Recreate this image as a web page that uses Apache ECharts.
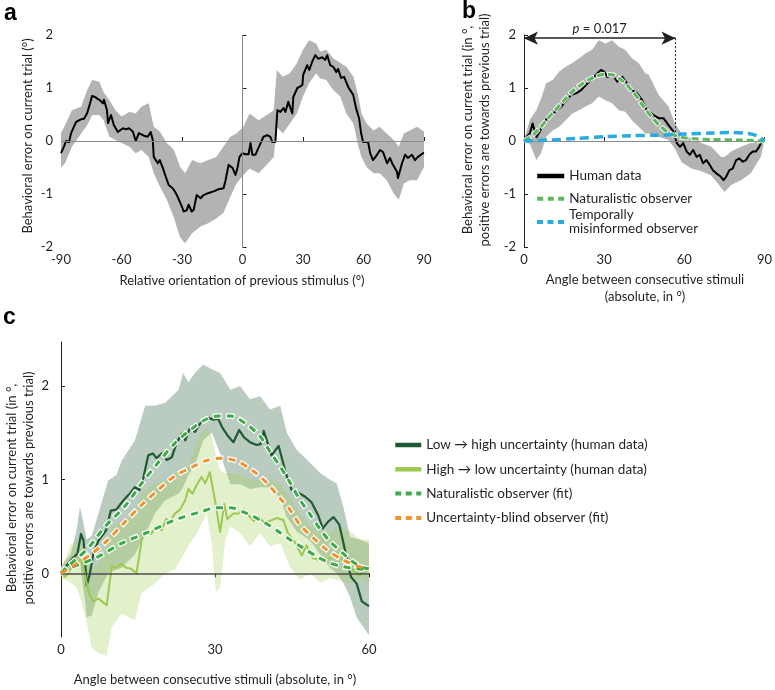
<!DOCTYPE html>
<html><head><meta charset="utf-8">
<script src="https://cdn.jsdelivr.net/npm/echarts@6/dist/echarts.min.js"></script>
<style>html,body{margin:0;padding:0;background:#fff}#c{width:775px;height:690px}</style>
</head><body><div id="c"></div>
<script>
// ---------- Panel a: relative orientation vs behavioural error ----------
const aError = [[-90,-0.23],[-88.5,-0.1],[-87.5,0.0],[-86,-0.02],[-85,0.15],[-82.5,0.36],[-80.1,0.41],[-78.6,0.42],[-77.1,0.52],[-75.6,0.71],[-74.6,0.85],[-73.1,0.83],[-71.7,0.79],[-70.7,0.77],[-69.2,0.71],[-68.7,0.78],[-67.2,0.58],[-66.7,0.34],[-65.2,0.49],[-63.8,0.30],[-61.8,0.17],[-59.3,0.24],[-57.8,0.22],[-56.3,0.24],[-54.4,0.18],[-52.9,0.0],[-51.4,0.15],[-48.9,0.10],[-47.0,0.08],[-45.5,0.17],[-44.5,0.02],[-44.0,-0.30],[-42.0,-0.42],[-41.0,-0.36],[-39.5,-0.51],[-38.1,-0.67],[-36.6,-0.83],[-34.6,-0.89],[-33.1,-0.98],[-31.6,-1.10],[-29.7,-1.27],[-29.2,-1.33],[-27.7,-1.31],[-26.7,-1.20],[-25.2,-1.33],[-24.2,-1.30],[-22.7,-1.02],[-20.8,-1.08],[-19.3,-1.02],[-16.8,-0.98],[-14.3,-0.95],[-11.9,-0.91],[-9.4,-0.89],[-8.4,-0.74],[-6.9,-0.45],[-4.9,-0.51],[-3.5,-0.64],[-2.5,-0.51],[-1.5,-0.30],[0,-0.23],[1.5,-0.25],[3.0,-0.25],[4.0,-0.04],[4.9,-0.26],[6.4,-0.26],[7.9,-0.13],[10.4,0.08],[12.4,0.11],[13.8,0.08],[14.8,-0.02],[16.3,-0.02],[17.3,0.58],[18.8,0.55],[20.3,0.62],[21.3,0.55],[22.7,0.74],[24.7,0.52],[25.2,0.83],[27.2,1.00],[28.7,1.03],[29.7,1.06],[30.1,1.25],[32.1,1.43],[33.1,1.34],[34.6,1.50],[36.1,1.62],[37.6,1.55],[39.5,1.58],[41.0,1.53],[42.0,1.62],[43.5,1.43],[45.0,1.40],[46.5,1.30],[47.4,1.36],[48.9,1.19],[50.4,1.21],[52.4,1.02],[54.9,0.87],[56.3,0.62],[57.8,0.43],[58.8,0.15],[59.8,-0.02],[62.3,-0.02],[63.3,-0.23],[64.7,-0.36],[66.7,-0.26],[68.2,-0.17],[69.7,-0.21],[71.7,-0.42],[73.1,-0.32],[74.6,-0.45],[76.6,-0.58],[77.1,-0.70],[79.1,-0.42],[80.6,-0.26],[82.0,-0.32],[84.0,-0.26],[85.5,-0.36],[87.0,-0.30],[89.5,-0.23],[90,-0.22]];
// [angle, lower, upper]
const aBand = [[-90,-0.5,0.15],[-88,-0.42,0.30],[-84.6,-0.11,0.58],[-80,0.14,0.65],[-77,0.30,0.96],[-74.5,0.49,1.15],[-71,0.49,1.12],[-69,0.40,0.93],[-66,0.08,0.77],[-63,0.02,0.58],[-60,-0.04,0.46],[-56,-0.11,0.55],[-53,-0.23,0.52],[-50,-0.17,0.65],[-46.5,-0.30,0.71],[-44,-0.61,0.27],[-41,-0.86,0.18],[-37.5,-1.11,-0.04],[-34,-1.45,-0.17],[-31,-1.81,-0.48],[-28.5,-1.93,-0.61],[-25,-1.74,-0.36],[-21,-1.62,-0.42],[-17,-1.55,-0.36],[-13,-1.46,-0.30],[-9.5,-1.36,-0.11],[-6,-1.05,0.08],[-3,-0.80,0.14],[0.5,-0.64,0.27],[3.5,-0.52,0.52],[8,-0.61,0.39],[12,-0.45,0.49],[15.5,-0.30,0.58],[17,0.27,1.34],[20,0.14,1.21],[23.5,0.33,1.28],[27,0.52,1.47],[30,0.84,1.72],[33,1.09,1.90],[36.5,1.28,1.84],[38.5,1.18,1.69],[41.5,1.15,1.72],[45,0.96,1.56],[48.5,0.84,1.47],[51.5,0.52,1.40],[55,0.33,1.21],[57.5,-0.11,0.84],[59,-0.30,0.52],[61.5,-0.49,0.33],[65,-0.61,0.20],[68,-0.61,0.27],[71.5,-0.74,0.14],[75,-0.99,0.02],[77.5,-1.11,-0.11],[80,-0.80,0.14],[83,-0.74,0.20],[86.5,-0.74,0.27],[90,-0.49,0.18]];

// ---------- Panel b ----------
const bHuman = [[0,0],[1.0,0.08],[2.2,0.14],[3.2,0.33],[4.1,0.18],[4.7,0.07],[5.9,0.18],[7.1,0.30],[9.0,0.46],[10.9,0.52],[12.3,0.58],[14.0,0.65],[15.8,0.77],[17.7,0.87],[19.5,0.90],[21.4,0.96],[23.2,1.06],[25.1,1.15],[26.9,1.25],[28.8,1.34],[30.0,1.31],[31.2,1.21],[33.1,1.25],[34.9,1.12],[36.8,1.21],[38.6,1.09],[40.5,0.96],[42.3,0.90],[44.2,0.77],[46.0,0.58],[48.5,0.49],[50.4,0.43],[52.2,0.43],[54.1,0.30],[55.9,0.18],[57.2,-0.04],[58.4,-0.11],[59.6,-0.04],[60.9,-0.20],[62.1,-0.26],[63.3,-0.17],[64.6,-0.30],[65.8,-0.26],[67.0,-0.42],[68.3,-0.36],[69.5,-0.45],[70.7,-0.55],[72.0,-0.61],[73.6,-0.67],[74.7,-0.74],[75.7,-0.67],[76.9,-0.55],[78.1,-0.52],[79.4,-0.36],[80.6,-0.33],[81.9,-0.39],[83.1,-0.36],[84.3,-0.26],[85.6,-0.20],[86.8,-0.20],[88.0,-0.11],[89.3,0.02],[90,0]];
const bBand = [[0,-0.02,0.02],[2.2,-0.05,0.40],[4.6,-0.36,0.58],[6.4,-0.23,0.80],[8.3,0.08,1.09],[10.7,0.20,1.15],[13.2,0.27,1.31],[15.6,0.39,1.40],[18.1,0.52,1.47],[20.6,0.58,1.56],[23.0,0.65,1.65],[25.5,0.71,1.72],[28.0,0.84,1.90],[30.5,0.77,1.84],[33.0,0.71,1.90],[35.5,0.58,1.78],[37.9,0.55,1.72],[40.4,0.39,1.56],[42.9,0.27,1.47],[45.4,0.14,1.28],[46.7,0.14,1.25],[50.4,0.08,0.87],[54.1,0.02,0.65],[56.5,-0.15,0.33],[59.0,-0.40,0.14],[62.7,-0.52,0.05],[66.4,-0.57,-0.04],[70.1,-0.65,-0.11],[73.8,-0.88,-0.30],[75.1,-0.96,-0.30],[77.5,-0.83,-0.20],[81.2,-0.74,-0.11],[84.9,-0.61,-0.04],[88.6,-0.30,0.02],[90,0,0]];
const bNaturalistic = [[0,0],[3,0.10],[6,0.25],[9,0.43],[12,0.60],[15,0.77],[18,0.93],[21,1.05],[24,1.15],[27,1.22],[30,1.26],[33,1.25],[36,1.17],[39,1.03],[42,0.85],[45,0.63],[48,0.44],[51,0.28],[54,0.16],[57,0.10],[60,0.06],[65,0.04],[70,0.03],[80,0.02],[90,0]];
const bMisinformed = [[0,0],[10,0.02],[20,0.05],[30,0.08],[40,0.10],[50,0.11],[60,0.13],[70,0.15],[78,0.16],[84,0.14],[87,0.10],[90,0]];
const pBoundary = 56.7;   // end of significant range (deg)
const pArrowLevel = 1.94; // height of the arrow (deg of error)
const pLabel = '= 0.017';

// ---------- Panel c ----------
const cLowHigh = [[0,0],[0.8,0.06],[2.1,0.15],[3.2,0.21],[3.9,0.42],[4.4,0.35],[5.0,-0.13],[5.6,-0.01],[6.3,0.21],[7.3,0.35],[8.8,0.46],[9.7,0.67],[10.8,0.68],[11.6,0.74],[12.5,0.80],[13.4,0.85],[14.4,0.92],[15.3,0.89],[16.0,1.01],[17.0,1.26],[17.9,1.28],[18.6,1.23],[19.6,1.28],[20.6,1.21],[21.6,1.24],[22.5,1.39],[23.5,1.49],[24.2,1.42],[25.1,1.55],[26.1,1.51],[27.1,1.60],[27.9,1.65],[28.7,1.66],[29.7,1.64],[30.6,1.65],[31.5,1.55],[32.6,1.46],[33.6,1.40],[34.7,1.53],[35.7,1.45],[36.8,1.40],[38.1,1.37],[38.9,1.38],[39.5,1.52],[40.2,1.40],[41.0,1.26],[42.4,1.36],[43.8,1.07],[44.9,0.89],[46.2,0.86],[47.5,0.82],[48.8,0.76],[50.1,0.62],[51.0,0.48],[52.0,0.55],[53.1,0.60],[54.2,0.52],[55.0,0.33],[56.0,0.07],[56.5,-0.04],[57.6,-0.11],[58.6,-0.30],[60,-0.35]];
const cHighLow = [[0,0],[0.8,-0.04],[1.9,0.05],[3.0,0.12],[4.0,0.15],[4.6,0.0],[5.4,-0.2],[6.2,-0.3],[7.3,-0.27],[8.9,-0.34],[9.9,0.08],[10.8,0.06],[11.6,0.10],[12.7,0.06],[13.6,0.05],[14.7,0.0],[15.7,0.35],[16.4,0.44],[17.5,0.42],[18.6,0.49],[19.6,0.46],[20.5,0.58],[21.2,0.55],[22.2,0.64],[23.2,0.68],[24.2,0.78],[24.8,0.90],[25.6,0.85],[26.4,0.94],[27.4,1.03],[28.1,0.96],[29.0,1.08],[30.0,0.78],[31.0,0.44],[31.8,0.74],[32.4,0.58],[33.6,0.64],[34.7,0.64],[35.5,0.69],[36.5,0.62],[37.5,0.56],[38.6,0.60],[39.6,0.54],[40.7,0.56],[42.0,0.59],[43.3,0.57],[44.2,0.43],[45.6,0.33],[46.9,0.19],[47.8,0.30],[49.1,0.16],[50.5,0.14],[52.4,0.16],[54.0,0.22],[55.0,0.13],[56.3,0.06],[58.2,-0.02],[59.5,0.03],[60,0.01]];
const cNatHigh = [[0,0],[0.8,0.05],[2.5,0.13],[5.3,0.27],[8.6,0.50],[12.5,0.72],[15.7,0.96],[18.9,1.18],[22.2,1.39],[25.4,1.54],[28.1,1.64],[30.5,1.68],[33,1.68],[36.2,1.59],[38.8,1.46],[40.7,1.30],[42.7,1.14],[44.6,0.97],[46.5,0.79],[48.5,0.63],[50.5,0.47],[52.4,0.34],[55,0.21],[56.9,0.12],[58.9,0.06],[60,0.05]];
const cNatLow = [[0,0],[1.4,0.05],[6.6,0.16],[11.8,0.32],[17,0.44],[22.2,0.57],[27.4,0.66],[30,0.70],[33,0.70],[36.2,0.64],[39.4,0.55],[42,0.46],[44.6,0.36],[47.2,0.27],[49.8,0.18],[52.4,0.11],[55,0.07],[57.6,0.05],[60,0.04]];
const cBlind = [[0,0],[2.7,0.09],[6,0.21],[9.2,0.36],[12.5,0.55],[15.7,0.73],[18.9,0.89],[22.2,1.04],[25.4,1.13],[28.1,1.20],[31,1.23],[34.2,1.20],[37.5,1.09],[40,0.97],[42.7,0.80],[44.6,0.68],[46.5,0.52],[49.1,0.38],[51.8,0.25],[55,0.14],[58.2,0.07],[60,0.05]];
const cLowHighBand = [[0,-0.03,0.07],[1.9,0.04,0.21],[3.0,0.05,0.45],[3.7,0.1,0.71],[4.7,-0.3,0.45],[5.0,-0.47,0.36],[6.0,-0.45,0.40],[7.3,-0.2,0.64],[9.2,0.0,0.99],[10.8,0.04,1.05],[11.8,0.06,1.2],[14.4,0.2,1.42],[16.4,0.42,1.79],[18.3,0.64,1.79],[20.3,0.78,1.82],[22.9,0.85,1.96],[23.8,0.92,2.14],[24.8,1.05,2.04],[26.1,1.15,2.14],[27.7,1.42,2.23],[29.4,1.5,2.18],[31,1.28,2.14],[33,0.95,1.96],[34.9,0.95,2.0],[36.8,0.9,1.86],[38.8,0.92,1.89],[40.7,0.92,1.75],[42.7,0.8,1.79],[44,0.6,1.5],[45.9,0.45,1.32],[48.5,0.35,1.18],[50.5,0.2,1.07],[52.4,0.06,1.0],[53.7,0.0,0.96],[55,-0.1,0.71],[56.3,-0.25,0.39],[57.6,-0.47,0.37],[58.2,-0.52,0.36],[60,-0.66,0.32]];
const cHighLowBand = [[0,-0.05,0.05],[1.9,-0.1,0.3],[3.0,-0.15,0.35],[4.0,-0.3,0.35],[5.3,-0.6,0.1],[6.0,-0.8,0.05],[7.3,-0.85,0.1],[8.9,-0.88,0.3],[9.9,-0.57,0.5],[11.8,-0.43,0.57],[14.4,-0.5,0.64],[15.7,-0.21,0.86],[18.3,-0.11,0.96],[20.3,0.0,1.0],[22.2,0.04,1.07],[24.8,0.29,1.14],[26.7,0.45,1.43],[28.4,0.64,1.57],[29.4,0.3,1.45],[30.2,-0.2,1.25],[31.0,-0.15,1.1],[32.0,0.35,1.07],[33.0,0.5,1.07],[34.9,0.43,1.05],[36.8,0.29,1.0],[38.8,0.43,1.0],[40.7,0.29,1.0],[42.7,0.32,0.95],[44.6,0.07,0.82],[46.5,-0.07,0.64],[48.5,0.0,0.5],[50.5,-0.1,0.45],[52.4,-0.05,0.43],[54.4,-0.08,0.5],[56.3,-0.1,0.45],[58.2,-0.05,0.36],[60,-0.1,0.36]];
const cYTicks = [0, 1, 2];

// ---------- names ----------
const nHuman = 'Human data', nNatB = 'Naturalistic observer', nTmo = 'Temporally misinformed observer';
const nLH = 'Low \u2192 high uncertainty (human data)', nHL = 'High \u2192 low uncertainty (human data)';
const nNatC = 'Naturalistic observer (fit)', nBlind = 'Uncertainty-blind observer (fit)';

const F = 'Lato, "Open Sans", sans-serif';
const TXT = '#231f20';
const chart = echarts.init(document.getElementById('c'), null, {renderer: 'canvas'});

function band(idx, data, color, z) {
  return {
    type: 'custom', xAxisIndex: idx, yAxisIndex: idx, silent: true, z: z, animation: false,
    data: data, encode: {x: 0, y: [1, 2]},
    renderItem: function (params, api) {
      if (params.dataIndex !== 0) return null;
      const pts = [];
      for (let i = 0; i < data.length; i++) pts.push(api.coord([data[i][0], data[i][2]]));
      for (let i = data.length - 1; i >= 0; i--) pts.push(api.coord([data[i][0], data[i][1]]));
      return {type: 'polygon', shape: {points: pts}, style: {fill: color}};
    }
  };
}
function line(name, idx, data, color, width, dash, z, extra) {
  const s = {
    type: 'line', name: name, xAxisIndex: idx, yAxisIndex: idx, data: data,
    symbol: 'none', showSymbol: false, silent: true, animation: false, z: z,
    lineStyle: {color: color, width: width, type: dash || 'solid', cap: 'butt', join: 'round'},
    itemStyle: {color: color}
  };
  return Object.assign(s, extra || {});
}
function xAx(g, min, max, interval, tickInside) {
  return {type: 'value', gridIndex: g, min: min, max: max, interval: interval,
    axisLine: {show: false}, splitLine: {show: false},
    axisTick: {show: true, inside: tickInside, length: 4, lineStyle: {color: TXT, width: 1}},
    axisLabel: {color: TXT, fontSize: 13, fontFamily: F, margin: 6}};
}
function yAx(g, min, max, interval, showLine, extra) {
  const a = {type: 'value', gridIndex: g, min: min, max: max, interval: interval,
    axisLine: {show: showLine, lineStyle: {color: TXT, width: 1}}, splitLine: {show: false},
    axisTick: {show: true, inside: true, length: 4, lineStyle: {color: TXT, width: 1}},
    axisLabel: {color: TXT, fontSize: 13, fontFamily: F, margin: 8}};
  return Object.assign(a, extra || {});
}
const zeroLine = (color, width, items) => ({silent: true, symbol: 'none', label: {show: false},
  lineStyle: {color: color, width: width, type: 'solid'}, data: items, animation: false});

const cDash = [7, 6], cHalo = [9, 4];
const legendCommon = {orient: 'vertical', padding: 0, selectedMode: false, itemStyle: {opacity: 0}};

const option = {
  animation: false,
  grid: [
    {left: 61, top: 35, width: 363, height: 212},
    {left: 524, top: 35, width: 243, height: 212},
    {left: 61, top: 342, width: 308, height: 295}
  ],
  xAxis: [xAx(0, -90, 90, 30, true), xAx(1, 0, 90, 30, true), xAx(2, 0, 60, 30, false)],
  yAxis: [
    yAx(0, -2, 2, 1, false),
    yAx(1, -2, 2, 1, true),
    yAx(2, -0.68, 2.47, 1, true, {
      axisLabel: {color: TXT, fontSize: 13, fontFamily: F, margin: 12, customValues: cYTicks},
      axisTick: {show: true, inside: true, length: 4, lineStyle: {color: TXT, width: 1}, customValues: cYTicks}
    })
  ],
  legend: [
    Object.assign({left: 535, top: 168, itemWidth: 27, itemHeight: 14, itemGap: 6.7,
      textStyle: {fontSize: 13.5, fontFamily: F, color: TXT, lineHeight: 16},
      data: [{name: nHuman, lineStyle: {width: 4.5}}, {name: nNatB, lineStyle: {width: 4, type: [6, 4.5]}}]}, legendCommon),
    Object.assign({left: 535, top: 201, itemWidth: 27, itemHeight: 14,
      formatter: () => 'Temporally\nmisinformed observer',
      textStyle: {fontSize: 13.5, fontFamily: F, color: TXT, lineHeight: 14, padding: [14, 0, 0, 0]},
      data: [{name: nTmo, lineStyle: {width: 4, type: [6, 4.5]}}]}, legendCommon),
    Object.assign({left: 393, top: 437, itemWidth: 26, itemHeight: 14, itemGap: 8.3,
      textStyle: {fontSize: 13.5, fontFamily: F, color: TXT, lineHeight: 16},
      data: [{name: nLH, lineStyle: {width: 4.5}}, {name: nHL, lineStyle: {width: 4.5}},
             {name: nNatC, lineStyle: {width: 4, type: [6, 4.5]}}, {name: nBlind, lineStyle: {width: 4, type: [6, 4.5]}}]}, legendCommon)
  ],
  graphic: [
    {type: 'text', left: 4, top: 2, style: {text: 'a', font: 'bold 23px "Liberation Sans", Arial, sans-serif', fill: '#000'}},
    {type: 'text', left: 462, top: 0, style: {text: 'b', font: 'bold 23px "Liberation Sans", Arial, sans-serif', fill: '#000'}},
    {type: 'text', left: 3, top: 306, style: {text: 'c', font: 'bold 23px "Liberation Sans", Arial, sans-serif', fill: '#000'}},
    {type: 'text', x: 28, y: 136, rotation: Math.PI / 2, style: {text: 'Behavioral error on current trial (\u00b0)', font: '13px ' + F, fill: TXT, align: 'center', verticalAlign: 'middle'}},
    {type: 'text', x: 242, y: 281, style: {text: 'Relative orientation of previous stimulus (\u00b0)', font: '13px ' + F, fill: TXT, align: 'center', verticalAlign: 'middle'}},
    {type: 'text', x: 476, y: 130, rotation: Math.PI / 2, style: {text: 'Behavioral error on current trial (in \u00b0,\npositive errors are towards previous trial)', font: '13px ' + F, fill: TXT, align: 'center', verticalAlign: 'middle', lineHeight: 17}},
    {type: 'text', x: 645, y: 288, style: {text: 'Angle between consecutive stimuli\n(absolute, in \u00b0)', font: '13px ' + F, fill: TXT, align: 'center', verticalAlign: 'middle', lineHeight: 17}},
    {type: 'text', x: 20, y: 488, rotation: Math.PI / 2, style: {text: 'Behavioral error on current trial (in \u00b0,\npositive errors are towards previous trial)', font: '13px ' + F, fill: TXT, align: 'center', verticalAlign: 'middle', lineHeight: 17}},
    {type: 'text', x: 215, y: 680, style: {text: 'Angle between consecutive stimuli (absolute, in \u00b0)', font: '13px ' + F, fill: TXT, align: 'center', verticalAlign: 'middle'}}
  ],
  series: [
    // panel a
    band(0, aBand, '#b3b3b3', 1),
    line('aZero', 0, [], '#888', 1, 'solid', 2, {markLine: zeroLine('#8a8a8a', 1, [{yAxis: 0}, {xAxis: 0}])}),
    line('aHuman', 0, aError, '#000', 2, 'solid', 3),
    // panel b
    band(1, bBand, '#b3b3b3', 1),
    line('bZero', 1, [], '#888', 1, 'solid', 2, {markLine: zeroLine('#8a8a8a', 1, [{yAxis: 0}])}),
    line(nHuman, 1, bHuman, '#000', 2, 'solid', 3),
    line('bNatHalo', 1, bNaturalistic, '#ffffff', 5, [9, 2], 4, {smooth: 0.3, lineStyle: {color: 'rgba(255,255,255,0.85)', width: 5, type: [9, 2], dashOffset: 1, cap: 'butt'}}),
    line(nNatB, 1, bNaturalistic, '#5cb85c', 3, [7, 4], 5, {smooth: 0.3}),
    line(nTmo, 1, bMisinformed, '#29abe2', 3.5, [9, 5], 6, {smooth: 0.3}),
    line('pArrow', 1, [], TXT, 1, 'solid', 7, {markLine: {silent: true, animation: false, symbol: ['arrow', 'arrow'], symbolSize: [10, 14],
      lineStyle: {color: TXT, width: 1.5, type: 'solid'},
      label: {show: true, position: 'middle', distance: 3, formatter: '{i|p} ' + pLabel, color: TXT, fontSize: 13, fontFamily: F,
        rich: {i: {fontStyle: 'italic', fontSize: 13, fontFamily: F, color: TXT}}},
      data: [[{coord: [0, pArrowLevel]}, {coord: [pBoundary, pArrowLevel]}]]}}),
    line('pDots', 1, [], TXT, 1, 'solid', 7, {markLine: {silent: true, animation: false, symbol: 'none', label: {show: false},
      lineStyle: {color: TXT, width: 1, type: [2, 2]},
      data: [[{coord: [pBoundary, pArrowLevel]}, {coord: [pBoundary, 0]}]]}}),
    // panel c
    band(2, cLowHighBand, '#bacbbf', 1),
    band(2, cHighLowBand, 'rgba(168,210,98,0.33)', 1),
    line('cZero', 2, [], '#555', 1.5, 'solid', 2, {markLine: zeroLine('#4d4d4d', 1.5, [{yAxis: 0}])}),
    line(nLH, 2, cLowHigh, '#1f5a33', 2.2, 'solid', 3),
    line(nHL, 2, cHighLow, '#9cc94f', 2, 'solid', 3),
    line('h1', 2, cNatHigh, '#fff', 5.5, cHalo, 4, {smooth: 0.3, lineStyle: {color: '#fff', width: 5.5, type: cHalo, dashOffset: 1, cap: 'butt'}}),
    line('h2', 2, cNatLow, '#fff', 5.5, cHalo, 4, {smooth: 0.3, lineStyle: {color: '#fff', width: 5.5, type: cHalo, dashOffset: 1, cap: 'butt'}}),
    line('h3', 2, cBlind, '#fff', 5.5, cHalo, 4, {smooth: 0.3, lineStyle: {color: '#fff', width: 5.5, type: cHalo, dashOffset: 1, cap: 'butt'}}),
    line(nNatC, 2, cNatHigh, '#3daa4a', 3, cDash, 5, {smooth: 0.3}),
    line(nNatC, 2, cNatLow, '#3daa4a', 3, cDash, 5, {smooth: 0.3}),
    line(nBlind, 2, cBlind, '#f0932f', 3, cDash, 5, {smooth: 0.3})
  ]
};
chart.setOption(option);
</script></body></html>
